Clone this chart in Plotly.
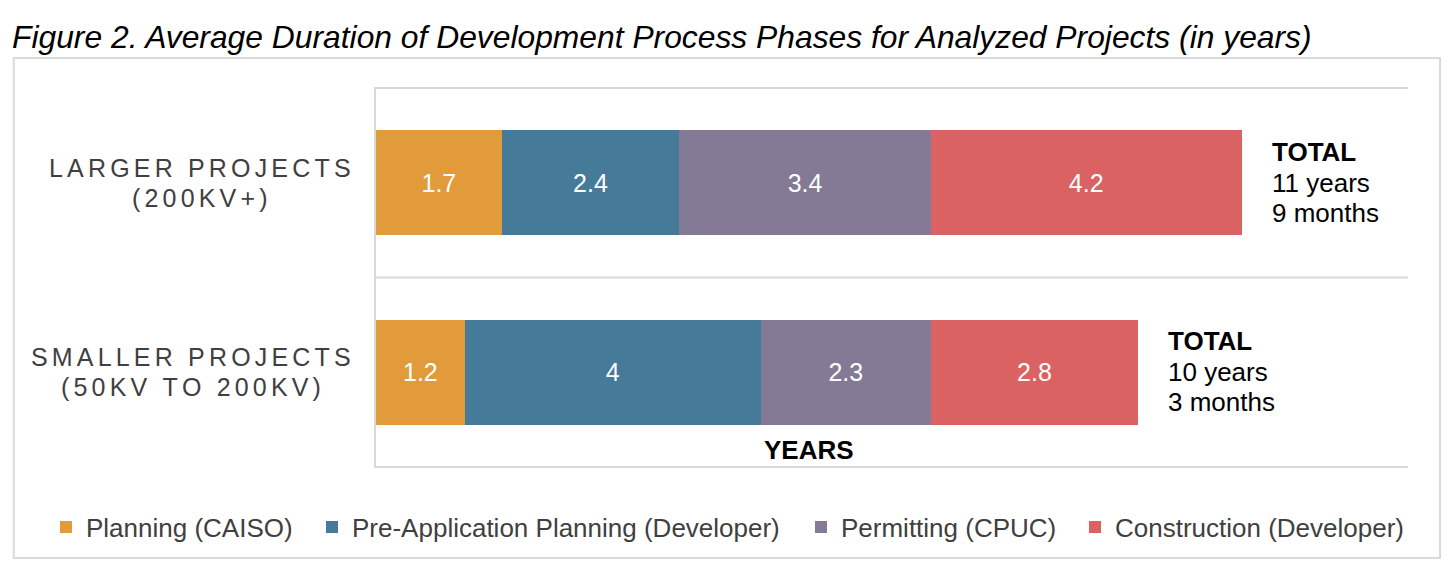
import plotly.graph_objects as go

# data
projects = [["LARGER PROJECTS", "(200KV+)"], ["SMALLER PROJECTS", "(50KV TO 200KV)"]]
phases = [
    "Planning (CAISO)",
    "Pre-Application Planning (Developer)",
    "Permitting (CPUC)",
    "Construction (Developer)",
]
durations = [
    [1.7, 1.2],
    [2.4, 4.0],
    [3.4, 2.3],
    [4.2, 2.8],
]
total_labels = [["11 years", "9 months"], ["10 years", "3 months"]]

colors = ["#E19B3A", "#467A99", "#847A96", "#DB6262"]
FONT = "Liberation Sans, Arial, sans-serif"
W, H = 1456, 571

cat_ids = ["large", "small"]
# one legend per phase so each entry sits where the original puts it
legend_px = [46, 312, 801, 1075]

fig = go.Figure()
for i, (name, vals, col) in enumerate(zip(phases, durations, colors)):
    fig.add_trace(
        go.Bar(
            y=cat_ids,
            x=vals,
            name=name,
            orientation="h",
            marker=dict(color=col, line=dict(width=0)),
            text=[("%g" % v) for v in vals],
            textposition="inside",
            insidetextanchor="middle",
            textfont=dict(color="white", size=25, family=FONT),
            width=0.556,
            legend="legend" if i == 0 else "legend%d" % (i + 1),
        )
    )

# totals to the right of each bar
totals = [sum(d[i] for d in durations) for i in range(len(cat_ids))]
for cid, tot, lab in zip(cat_ids, totals, total_labels):
    lines = [("<b>TOTAL</b>", 31), (lab[0], 0), (lab[1], -30)]
    for txt, dy in lines:
        fig.add_annotation(
            x=tot, y=cid, xref="x", yref="y",
            text=txt, showarrow=False, xanchor="left", align="left",
            xshift=28, yshift=dy,
            font=dict(size=26, color="black", family=FONT),
        )


def spaced(s):
    # widen the letter spacing like the original category labels
    return "\u200a\u200a".join(list(s))


label_centre = {"large": -176, "small": -185}
for cid, lab in zip(cat_ids, projects):
    for txt, dy in zip(lab, [15, -15]):
        fig.add_annotation(
            x=0, y=cid, xref="paper", yref="y",
            text=spaced(txt),
            showarrow=False, xanchor="center", align="center",
            xshift=label_centre[cid], yshift=dy,
            font=dict(size=25, color="#404040", family=FONT),
        )

# axis label, placed under the bars as in the source
fig.add_annotation(
    x=5.85, y=0.047, xref="x", yref="paper",
    text="<b>YEARS</b>", showarrow=False, yanchor="middle",
    font=dict(size=26, color="black", family=FONT),
)

# horizontal rules between categories
for yy in [-0.5, 0.5, 1.5]:
    fig.add_shape(
        type="line", xref="paper", yref="y", x0=0, x1=1, y0=yy, y1=yy,
        line=dict(color="#D9D9D9", width=2), layer="below",
    )

# outer frame around the chart
fig.add_shape(
    type="rect", xref="paper", yref="paper",
    x0=-0.351, x1=1.031, y0=-0.236, y1=1.076,
    line=dict(color="#D9D9D9", width=2),
)

legend_common = dict(
    orientation="h", xref="container", yref="container",
    xanchor="left", yanchor="middle", y=1 - 527 / H,
    font=dict(size=26, color="#404040", family=FONT),
    bgcolor="rgba(0,0,0,0)",
)
legends = {}
for i, px in enumerate(legend_px):
    key = "legend" if i == 0 else "legend%d" % (i + 1)
    legends[key] = dict(legend_common, x=px / W)

fig.update_layout(
    width=W,
    height=H,
    barmode="stack",
    plot_bgcolor="white",
    paper_bgcolor="white",
    margin=dict(l=376, r=48, t=87, b=103, autoexpand=False),
    font=dict(family=FONT, color="#404040"),
    title=dict(
        text="<i>Figure 2. Average Duration of Development Process Phases for Analyzed Projects (in years)</i>",
        x=12 / W, xanchor="left", y=1 - 37 / H, yanchor="middle",
        font=dict(size=31.8, color="black", family=FONT),
    ),
    showlegend=True,
    **legends,
)
fig.update_xaxes(range=[0, 13.95], showgrid=False, showticklabels=False,
                 zeroline=False, showline=False, fixedrange=True)
fig.update_yaxes(categoryorder="array", categoryarray=cat_ids, autorange="reversed",
                 showticklabels=False, showgrid=False, zeroline=False,
                 showline=True, linecolor="#D9D9D9", linewidth=2)

fig.write_html("out.html", config={"displayModeBar": False},
               post_script="document.body.style.margin = '0';")
